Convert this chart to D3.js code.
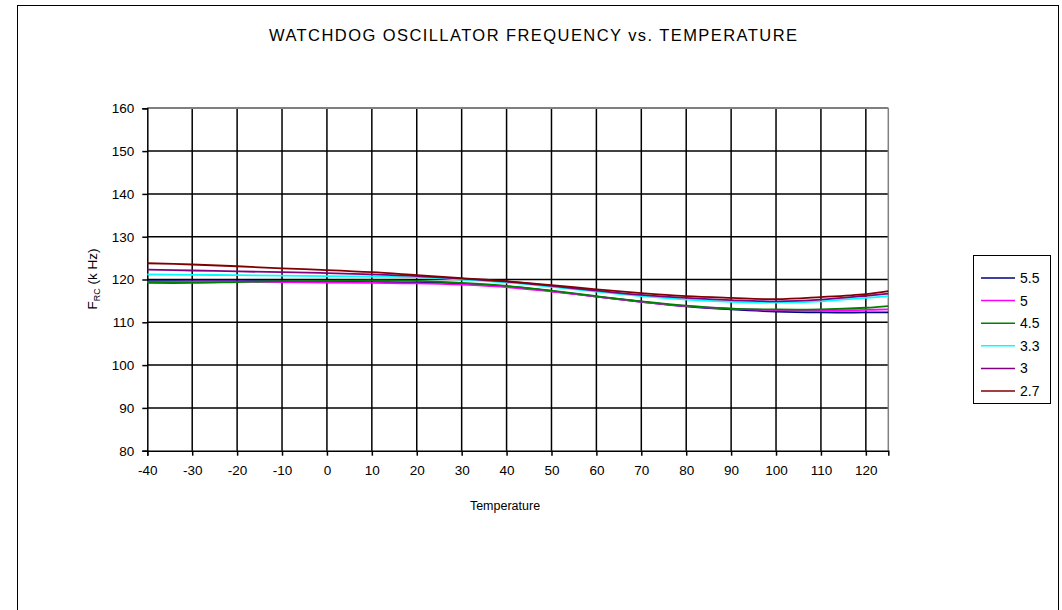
<!DOCTYPE html>
<html><head><meta charset="utf-8">
<script src="https://cdn.jsdelivr.net/npm/d3@7"></script>
<style>body{margin:0;background:#fff;}svg{display:block;font-family:"Liberation Sans",Arial,sans-serif;}</style>
</head><body><svg id="c" width="1062" height="610"></svg>
<script>
const temps = [-40,-30,-20,-10,0,10,20,30,40,50,60,70,80,90,100,110,120,125];
const seriesNames = ["5.5","5","4.5","3.3","3","2.7"];
const seriesColors = ["#000080","#FF00FF","#008000","#00FFFF","#800080","#800000"];
const v55 = [119.6,119.6,119.6,119.6,119.5,119.4,119.3,119.0,118.4,117.3,116.0,114.8,113.7,113.0,112.5,112.3,112.3,112.3];
const v5  = [119.4,119.5,119.5,119.4,119.3,119.2,119.1,118.8,118.2,117.2,116.0,114.8,113.8,113.2,112.8,112.7,112.9,113.0];
const v45 = [119.2,119.2,119.4,119.6,119.7,119.8,119.7,119.2,118.5,117.4,116.1,114.9,113.9,113.2,113.0,113.0,113.4,113.8];
const v33 = [121.2,121.1,121.0,120.9,120.8,120.7,120.5,120.0,119.3,118.3,117.2,116.1,115.3,114.8,114.6,114.9,115.7,116.1];
const v3  = [122.3,122.1,121.9,121.7,121.5,121.2,120.8,120.2,119.5,118.5,117.4,116.4,115.7,115.2,114.9,115.3,116.2,116.7];
const v27 = [123.8,123.5,123.1,122.6,122.2,121.7,121.0,120.3,119.6,118.7,117.7,116.8,116.1,115.7,115.4,115.9,116.6,117.3];
const seriesValues = [v55,v5,v45,v33,v3,v27];
const xTicks = [-40,-30,-20,-10,0,10,20,30,40,50,60,70,80,90,100,110,120];
const yTicks = [80,90,100,110,120,130,140,150,160];
const titleText = "WATCHDOG OSCILLATOR FREQUENCY vs. TEMPERATURE";
const xTitle = "Temperature";

const svg = d3.select("#c");
// outer frame
svg.append("rect").attr("x",17.5).attr("y",5.5).attr("width",1041).attr("height",620)
  .attr("fill","none").attr("stroke","#000").attr("stroke-width",1);

const L=147.3,R=888.3,T=108.3,B=450.7;
const x = d3.scaleLinear().domain([-40,125]).range([L,R]);
const y = d3.scaleLinear().domain([80,160]).range([B,T]);

// grid
const g = svg.append("g");
g.selectAll(".vg").data(xTicks.slice(1)).join("line")
  .attr("x1",d=>x(d)).attr("x2",d=>x(d)).attr("y1",T).attr("y2",B)
  .attr("stroke","#000").attr("stroke-width",1.5);
g.selectAll(".hg").data(yTicks.slice(1)).join("line")
  .attr("x1",L).attr("x2",R).attr("y1",d=>y(d)).attr("y2",d=>y(d))
  .attr("stroke","#000").attr("stroke-width",1.5);
// plot border right/top
g.append("line").attr("x1",R).attr("x2",R).attr("y1",T).attr("y2",B).attr("stroke","#808080").attr("stroke-width",1.5);
g.append("line").attr("x1",L).attr("x2",R).attr("y1",T).attr("y2",T).attr("stroke","#808080").attr("stroke-width",1.5);

// axes
const xAxis = svg.append("g").attr("transform",`translate(0,${B})`)
  .call(d3.axisBottom(x).tickValues(xTicks).tickSize(5).tickPadding(10).tickFormat(d=>String(d)));
const yAxis = svg.append("g").attr("transform",`translate(${L},0)`)
  .call(d3.axisLeft(y).tickValues(yTicks).tickSize(5).tickPadding(8));
[xAxis,yAxis].forEach(a=>{
  a.select(".domain").attr("stroke","#000").attr("stroke-width",1.5);
  a.selectAll(".tick line").attr("stroke","#000").attr("stroke-width",1.5);
  a.selectAll("text").attr("font-family","Liberation Sans, Arial, sans-serif").attr("font-size",13.5).attr("fill","#000");
});

// series
const line = d3.line().x((d,i)=>x(temps[i])).y(d=>y(d)).curve(d3.curveCatmullRom.alpha(0.5));
seriesValues.forEach((vals,k)=>{
  svg.append("path").attr("d",line(vals)).attr("fill","none")
    .attr("stroke",seriesColors[k]).attr("stroke-width",1.8);
});

// titles
svg.append("text").attr("x",533).attr("y",41).attr("text-anchor","middle")
  .attr("font-size",16.5).attr("textLength",528).attr("lengthAdjust","spacing")
  .attr("fill","#000").text(titleText);
svg.append("text").attr("x",505).attr("y",510).attr("text-anchor","middle")
  .attr("font-size",12.5).attr("fill","#000").text(xTitle);
const yl = svg.append("text").attr("transform","translate(97,279) rotate(-90)")
  .attr("text-anchor","middle").attr("font-size",13.5).attr("fill","#000");
yl.append("tspan").text("F");
yl.append("tspan").attr("font-size",9).attr("dy",3).text("RC");
yl.append("tspan").attr("dy",-3).text(" (k Hz)");

// legend
const lg = svg.append("g");
lg.append("rect").attr("x",973.5).attr("y",255.5).attr("width",77).attr("height",148)
  .attr("fill","#fff").attr("stroke","#000").attr("stroke-width",1);
seriesNames.forEach((n,i)=>{
  const yy = 278 + i*22.6;
  lg.append("line").attr("x1",981).attr("x2",1015).attr("y1",yy).attr("y2",yy)
    .attr("stroke",seriesColors[i]).attr("stroke-width",1.5);
  lg.append("text").attr("x",1020).attr("y",yy+5).attr("font-size",14).attr("fill","#000").text(n);
});
</script></body></html>
